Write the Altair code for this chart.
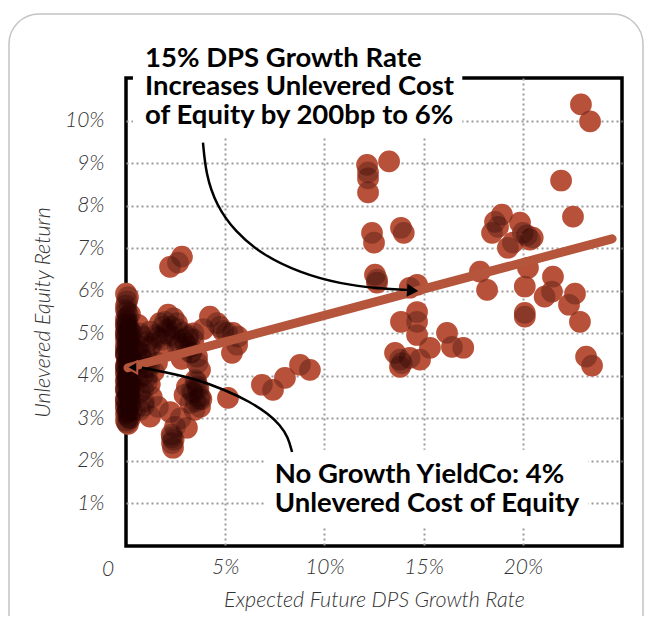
import altair as alt
import pandas as pd

# ---- data (percent units) ----
growth = [
    # dense stack of no-growth names
    0.0, 0.05, 0.0, 0.1, 0.0, 0.15, 0.0, 0.05, 0.2, 0.0, 0.1, 0.0, 0.25, 0.05, 0.0, 0.15, 0.0, 0.3,
    0.05, 0.0, 0.2, 0.0, 0.1, 0.0, 0.25, 0.0, 0.05, 0.15, 0.0, 0.1, 0.35, 0.4, 0.3, 0.4, 0.45,
    0.1, 0.0, 0.2, 0.05, 0.0, 0.15, 0.0, 0.1, 0.0, 0.2, 0.05, 0.0, 0.1, 0.0, 0.15, 0.0, 0.05, 0.2,
    0.0, 0.1, 0.3, 0.0, 0.15, 0.05, 0.25, 0.0, 0.1, 0.2, 0.0, 0.05,
    0.0, 0.1, 0.2, 0.0, 0.1, 0.2, 0.0, 0.1, 0.2, 0.0, 0.1, 0.2, 0.0, 0.1, 0.2, 0.0, 0.1, 0.2,
    0.0, 0.1, 0.2, 0.0, 0.1, 0.2, 0.0, 0.1, 0.2, 0.0, 0.1, 0.2, 0.05, 0.15, 0.05, 0.15,
    # near the stack
    0.71, 0.86, 1.06, 0.86, 1.21, 1.56, 0.71, 1.21, 1.61, 1.21, 0.6, 1.0, 1.3,
    0.8, 1.1, 0.6, 1.4, 0.9, 0.7, 1.2, 0.55, 1.5, 0.95,
    0.65, 0.75, 0.85, 1.0, 1.15, 0.7, 0.9, 1.3, 0.6, 1.05,
    # 1.7% - 4.8% cluster
    1.71, 2.12, 2.07, 2.57, 2.87, 3.23, 3.58, 3.73, 3.07, 3.38, 3.73, 3.73, 3.23, 4.23, 4.59,
    2.22, 2.47, 3.07, 2.32, 2.32, 2.37, 1.97, 2.5, 3.4, 3.9, 1.9, 2.8, 3.5,
    2.3, 2.7, 3.1, 3.6, 2.0, 3.3, 3.8, 2.6, 3.45, 3.65, 2.9, 2.4, 3.15, 3.55,
    1.8, 2.2, 2.6, 3.0, 3.4, 3.6, 3.5, 3.3, 2.4, 2.3, 1.6, 1.85, 2.95, 3.7, 3.25, 2.75,
    4.74, 5.09, 5.39, 5.34, 5.6, 5.64, 5.14, 4.9,
    6.85, 7.41, 8.01, 8.77, 9.27,
    2.22, 2.82, 2.62,
    12.15, 12.2, 12.2, 12.2, 13.26,
    12.4, 12.5, 13.86, 14.0,
    12.55, 12.65, 12.65,
    14.67, 14.3, 17.84, 18.2,
    13.86, 14.67, 14.67,
    14.67, 15.32, 16.18, 16.43, 17.0,
    13.56, 13.81, 13.81, 14.3, 14.82, 13.9,
    22.93, 23.39, 21.93, 22.53,
    18.95, 18.6, 18.45, 18.75, 19.86, 20.0, 20.36, 19.5, 19.25, 20.26, 20.1, 20.1, 20.1, 20.5, 20.2,
    21.52, 21.1, 21.47, 22.63, 22.33, 22.88, 23.19, 23.49,
]
unlevered_return = [
    5.93, 5.75, 5.55, 5.4, 5.25, 5.1, 5.0, 4.9, 4.8, 4.7, 4.6, 4.5, 4.45, 4.35, 4.25, 4.15, 4.05, 4.0,
    3.95, 3.85, 3.75, 3.65, 3.55, 3.45, 3.35, 3.25, 3.15, 3.05, 2.95, 2.87, 4.6, 4.3, 5.0, 3.7, 3.2,
    5.85, 5.65, 5.45, 5.3, 5.15, 4.95, 4.85, 4.75, 4.55, 4.4, 4.3, 4.2, 4.1, 3.9, 3.8, 3.7, 3.6, 3.5,
    3.4, 3.3, 3.2, 3.1, 3.0, 2.9, 4.9, 4.65, 4.0, 3.6, 5.2, 5.5,
    5.35, 5.2, 5.05, 4.95, 4.8, 4.65, 4.5, 4.4, 4.25, 4.1, 3.95, 3.8, 3.7, 3.55, 3.4, 3.3, 3.15, 3.0,
    5.0, 4.7, 4.45, 4.2, 3.9, 3.65, 3.45, 3.2, 4.85, 4.55, 4.3, 4.05, 3.85, 3.6, 5.1, 4.0,
    4.54, 4.92, 3.98, 3.67, 4.68, 4.31, 3.2, 5.04, 3.27, 3.04, 5.2, 4.2, 3.5,
    4.4, 4.8, 3.9, 4.1, 3.4, 5.0, 3.8, 4.6, 4.95, 4.35,
    4.7, 4.3, 4.0, 4.5, 4.2, 3.6, 3.3, 4.75, 4.15, 3.85,
    5.24, 5.44, 5.08, 5.24, 5.01, 4.68, 4.45, 4.14, 3.74, 3.6, 3.51, 3.27, 3.36, 5.39, 5.24,
    3.15, 2.8, 2.78, 2.56, 2.42, 2.31, 5.27, 4.9, 5.0, 5.1, 4.6, 4.4, 3.9,
    5.15, 4.75, 4.9, 4.3, 5.0, 4.55, 3.45, 5.1, 3.2, 3.7, 4.85, 5.35, 4.95, 3.85,
    4.85, 4.95, 4.7, 4.75, 4.85, 3.75, 3.4, 3.65, 2.5, 2.62, 4.9, 5.15, 3.55, 3.45, 4.55, 3.0,
    5.15, 5.01, 5.01, 4.54, 4.73, 4.92, 3.48, 5.05,
    3.79, 3.67, 3.95, 4.26, 4.14,
    6.56, 6.8, 6.66,
    8.96, 8.78, 8.64, 8.31, 9.04,
    7.36, 7.13, 7.48, 7.36,
    6.38, 6.26, 6.19,
    6.14, 6.07, 6.45, 6.02,
    5.27, 5.5, 5.27,
    4.96, 4.66, 5.01, 4.68, 4.66,
    4.54, 4.38, 4.21, 4.42, 4.38, 4.3,
    10.38, 9.98, 8.59, 7.74,
    7.79, 7.62, 7.36, 7.5, 7.6, 7.36, 7.2, 7.13, 7.01, 6.54, 6.1, 5.48, 5.39, 7.25, 7.3,
    6.33, 5.86, 5.98, 5.93, 5.67, 5.27, 4.45, 4.24,
]

trend_x = [0.1, 24.5]
trend_y = [4.19, 7.22]

x_ticks = [5, 10, 15, 20]
y_ticks = [1, 2, 3, 4, 5, 6, 7, 8, 9, 10]

top_note = ["15% DPS Growth Rate", "Increases Unlevered Cost", "of Equity by 200bp to 6%"]
bottom_note = ["No Growth YieldCo: 4%", "Unlevered Cost of Equity"]

# annotation arrow paths (data coordinates)
arrow_top_x = [3.88, 4.03, 4.54, 5.49, 6.85, 8.77, 10.79, 12.8, 14.2]
arrow_top_y = [9.48, 8.73, 8.02, 7.39, 6.85, 6.42, 6.16, 6.05, 6.02]
arrow_bot_x = [8.37, 8.17, 7.76, 7.16, 6.25, 4.99, 3.48, 1.97, 0.8]
arrow_bot_y = [2.21, 2.56, 2.85, 3.11, 3.39, 3.67, 3.93, 4.09, 4.19]

TERRA = "#b5553c"
BASE = "#fa7452"
FONT = "Lato"

pts_df = pd.DataFrame({"g": growth, "r": unlevered_return})
trend_df = pd.DataFrame({"g": trend_x, "r": trend_y})
arrows_df = pd.DataFrame({
    "g": arrow_top_x + arrow_bot_x,
    "r": arrow_top_y + arrow_bot_y,
    "id": ["top"] * len(arrow_top_x) + ["bot"] * len(arrow_bot_x),
    "i": list(range(len(arrow_top_x))) + list(range(len(arrow_bot_x))),
})
boxes_df = pd.DataFrame({"x1": [0.35, 7.0], "x2": [16.95, 23.3], "y1": [9.62, 0.45], "y2": [12.2, 2.26]})

XS = alt.Scale(domain=[0, 25], nice=False, zero=False)
YS = alt.Scale(domain=[0, 11], nice=False, zero=False)

axis_common = dict(
    grid=True, gridDash=[2, 3], gridColor="#9a9a9a", gridWidth=2,
    ticks=False, domain=False,
    labelFont=FONT, labelFontStyle="italic", labelFontWeight=300, labelFontSize=21,
    labelColor="#333333",
    titleFont=FONT, titleFontStyle="italic", titleFontWeight=300, titleFontSize=21.5,
    titleColor="#333333",
)

frame = alt.Chart(pd.DataFrame({"a": [0]})).mark_rect(
    cornerRadius=30, fillOpacity=0, stroke="#c4c4c4", strokeWidth=1.5
).encode(x=alt.value(-117), x2=alt.value(517), y=alt.value(-64), y2=alt.value(570))

base_pts = alt.Chart(pts_df).encode(
    x=alt.X("g:Q", scale=XS, axis=alt.Axis(values=x_ticks, labelExpr="datum.value + '%'",
            title="Expected Future DPS Growth Rate", labelPadding=10, titlePadding=12, **axis_common)),
    y=alt.Y("r:Q", scale=YS, axis=alt.Axis(values=y_ticks, labelExpr="datum.value + '%'",
            title="Unlevered Equity Return", labelPadding=22, titlePadding=10, **axis_common)),
)
points = base_pts.mark_circle(size=470, fill=BASE, fillOpacity=1, opacity=1, strokeWidth=0)
shade = base_pts.mark_circle(size=470, fill="#200000", fillOpacity=0.3, opacity=1, strokeWidth=0)

trend = alt.Chart(trend_df).mark_line(color=TERRA, strokeWidth=9, strokeCap="round").encode(
    x="g:Q", y="r:Q"
)

boxes = alt.Chart(boxes_df).mark_rect(color="white").encode(
    x="x1:Q", x2="x2:Q", y="y1:Q", y2="y2:Q"
)

zero_lbl = alt.Chart(pd.DataFrame({"g": [0], "r": [0]})).mark_text(
    font=FONT, fontStyle="italic", fontWeight=300, fontSize=21, color="#333333",
    align="center", baseline="top", dx=-18, dy=13
).encode(x="g:Q", y="r:Q", text=alt.value("0"))

note_top = alt.Chart(pd.DataFrame({"g": [0.96], "r": [11.27]})).mark_text(
    font=FONT, fontWeight="bold", fontSize=27.5, lineHeight=28.5, color="black",
    align="left", baseline="alphabetic"
).encode(x="g:Q", y="r:Q", text=alt.value(top_note))

note_bot = alt.Chart(pd.DataFrame({"g": [7.5], "r": [1.48]})).mark_text(
    font=FONT, fontWeight="bold", fontSize=27.5, lineHeight=28.5, color="black",
    align="left", baseline="alphabetic"
).encode(x="g:Q", y="r:Q", text=alt.value(bottom_note))

arrows = alt.Chart(arrows_df).mark_line(color="black", strokeWidth=2.5, interpolate="basis").encode(
    x="g:Q", y="r:Q", detail="id:N", order="i:Q"
)

head_top = alt.Chart(pd.DataFrame({"g": [14.45], "r": [6.0]})).mark_point(
    shape="triangle-right", filled=True, size=170, color="black", opacity=1, angle=4
).encode(x="g:Q", y="r:Q")

head_bot = alt.Chart(pd.DataFrame({"g": [0.3], "r": [4.2]})).mark_point(
    shape="triangle-left", filled=True, size=150, fill="black", stroke=TERRA, strokeWidth=2, opacity=1
).encode(x="g:Q", y="r:Q")

chart = alt.layer(
    frame, points, shade, trend, boxes, zero_lbl, note_top, note_bot, arrows, head_top, head_bot
).properties(
    width=496, height=468,
    autosize=alt.AutoSizeParams(type="none"),
    padding={"left": 118, "top": 70, "right": 22, "bottom": 70},
).configure_view(stroke="black", strokeWidth=3.5)

chart.save("out.html", embed_options={"renderer": "svg", "actions": False})
